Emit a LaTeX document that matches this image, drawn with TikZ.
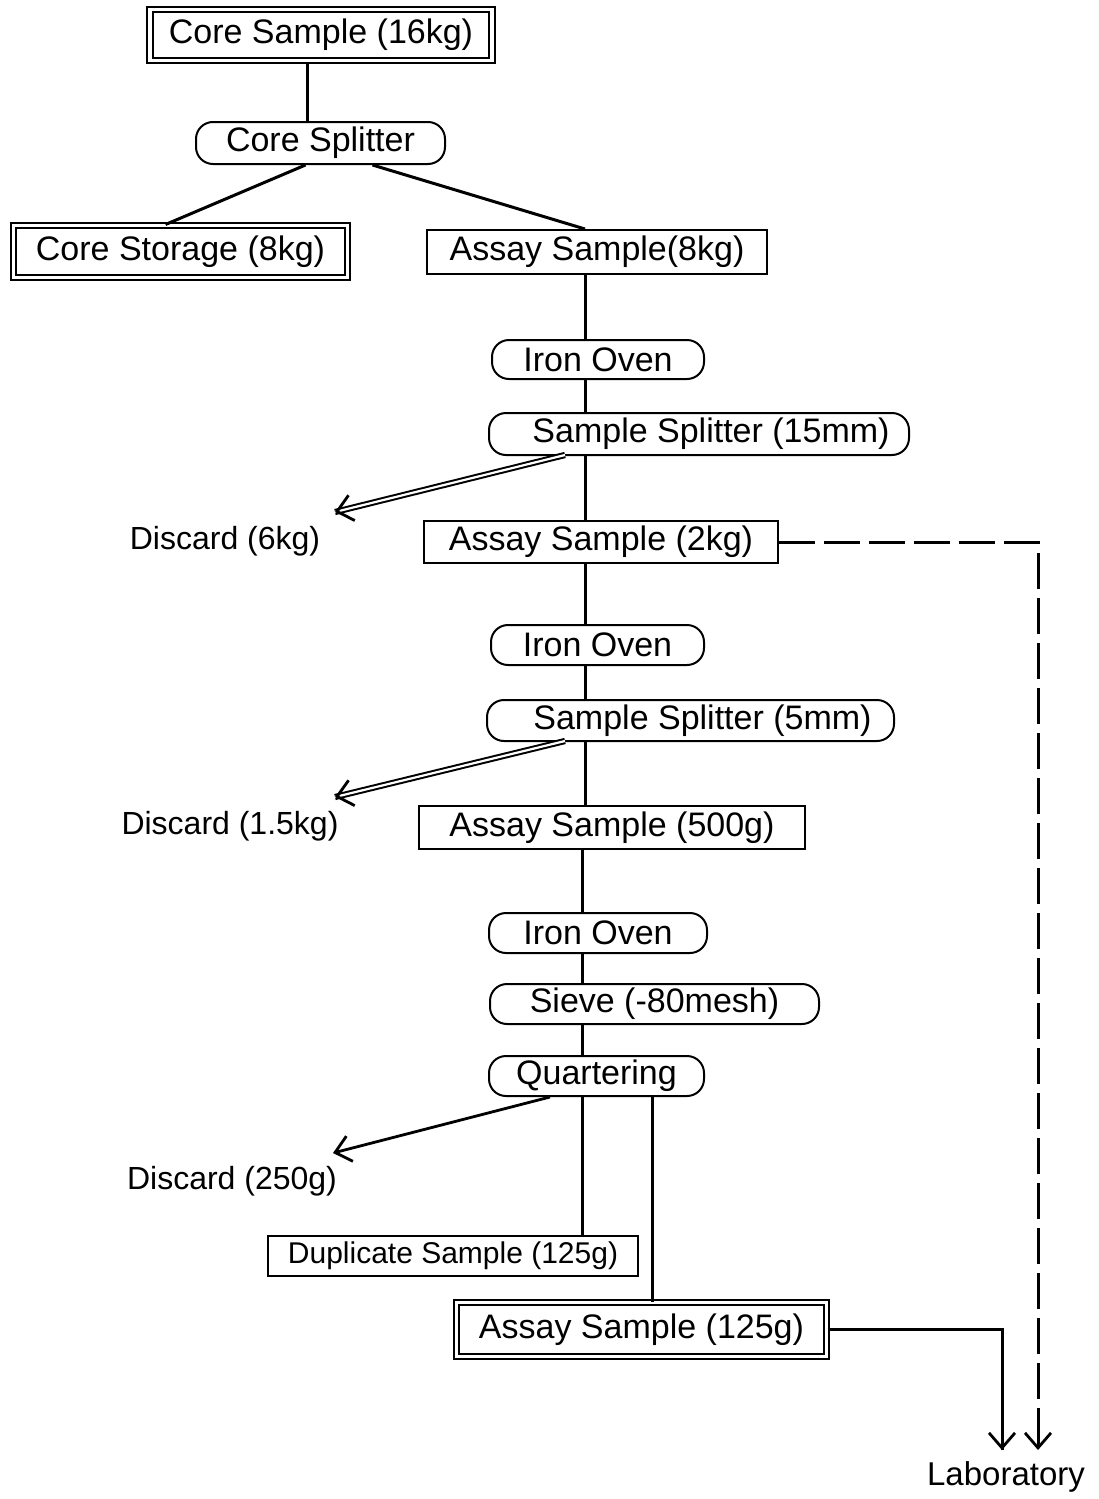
\documentclass[tikz,border=0pt]{standalone}
\usepackage{fontspec}
\setmainfont{Liberation Sans}
\usetikzlibrary{arrows.meta,calc}
\begin{document}
\begin{tikzpicture}[x=1pt,y=-1pt,
  base/.style={font=\fontsize{34}{40}\selectfont, inner sep=0pt, line width=2pt, align=center},
  dbox/.style={base, draw, double, double distance=3.5pt},
  sbox/.style={base, draw},
  pill/.style={base, draw, rounded corners=17pt},
  lbl/.style={font=\fontsize{32}{38}\selectfont, inner sep=0pt},
  conn/.style={line width=3pt},
  dbl/.style={line width=2pt, double, double distance=2.2pt},
  tip/.style={line width=2.8pt, -{Straight Barb[length=15pt,width=26pt]}}
]
\useasboundingbox (0,0) rectangle (1099,1499);

% boxes
\node[dbox, minimum width=342pt, minimum height=51pt] (cs) at (321,35) {Core Sample (16kg)};
\node[pill, minimum width=249pt, minimum height=42pt] (csp) at (320.5,143) {Core Splitter};
\node[dbox, minimum width=334pt, minimum height=52pt] (cst) at (180.5,251.5) {Core Storage (8kg)};
\node[sbox, minimum width=340pt, minimum height=44pt] (a8) at (597,252) {Assay Sample(8kg)};
\node[pill, minimum width=212pt, minimum height=39pt] (io1) at (598,359.5) {Iron Oven};
\node[pill, minimum width=420pt, minimum height=42pt] (ss15) at (699,434) {\hspace*{24pt}Sample Splitter (15mm)};
\node[lbl] (d6) at (225,541) {Discard (6kg)};
\node[sbox, minimum width=354pt, minimum height=42pt] (a2) at (601,542) {Assay Sample (2kg)};
\node[pill, minimum width=213pt, minimum height=40pt] (io2) at (597.5,645) {Iron Oven};
\node[pill, minimum width=407pt, minimum height=41pt] (ss5) at (690.5,720.5) {\hspace*{24pt}Sample Splitter (5mm)};
\node[lbl] (d15) at (230,826) {Discard (1.5kg)};
\node[sbox, minimum width=386pt, minimum height=43pt] (a500) at (612,827.5) {Assay Sample (500g)};
\node[pill, minimum width=218pt, minimum height=40pt] (io3) at (598,933) {Iron Oven};
\node[pill, minimum width=329pt, minimum height=40pt] (sv) at (654.5,1004) {Sieve (-80mesh)};
\node[pill, minimum width=215pt, minimum height=40pt] (qt) at (596.5,1076) {Quartering};
\node[lbl] (d250) at (232,1181) {Discard (250g)};
\node[sbox, font=\fontsize{30}{36}\selectfont, minimum width=370pt, minimum height=40pt] (dup) at (453,1256) {Duplicate Sample (125g)};
\node[dbox, minimum width=370pt, minimum height=54pt] (a125) at (641.5,1329.5) {Assay Sample (125g)};
\node[lbl, font=\fontsize{33}{40}\selectfont] (lab) at (1006,1477) {Laboratory};

% spine x positions
\coordinate (x1) at (307,0);
\coordinate (x2) at (585,0);
\coordinate (x3) at (582,0);
\coordinate (x4) at (652,0);

\draw[conn] (cs.south -| x1) -- (csp.north -| x1);
\draw[conn] ([xshift=-15pt]csp.south) -- ([xshift=-15pt]cst.north);
\draw[conn] ([xshift=52pt]csp.south) -- ([xshift=-12pt]a8.north);

\draw[conn] (a8.south -| x2) -- (io1.north -| x2);
\draw[conn] (io1.south -| x2) -- (ss15.north -| x2);
\draw[conn] (ss15.south -| x2) -- (a2.north -| x2);
\draw[conn] (a2.south -| x2) -- (io2.north -| x2);
\draw[conn] (io2.south -| x2) -- (ss5.north -| x2);
\draw[conn] (ss5.south -| x2) -- (a500.north -| x2);
\draw[conn] (a500.south -| x3) -- (io3.north -| x3);
\draw[conn] (io3.south -| x3) -- (sv.north -| x3);
\draw[conn] (sv.south -| x3) -- (qt.north -| x3);
\draw[conn] (qt.south -| x3) -- (dup.north -| x3);
\draw[conn] (qt.south -| x4) -- (a125.north -| x4);

% discard arrows
\coordinate (t1) at (335,512);
\coordinate (s1) at (565,455);
\draw[dbl] (s1) -- (t1);
\draw[tip] ($(t1)!2pt!(s1)$) -- (t1);
\coordinate (t2) at (335,797);
\coordinate (s2) at (565,741);
\draw[dbl] (s2) -- (t2);
\draw[tip] ($(t2)!2pt!(s2)$) -- (t2);
\coordinate (t3) at (333,1153);
\draw[tip] ([xshift=-46.5pt]qt.south) -- (t3);

% to laboratory
\coordinate (lr) at (1038,1450);
\coordinate (ll) at (1002,1450);
\draw[conn, dash pattern=on 36pt off 9pt] (a2.east) -| (lr);
\draw[tip] ($(lr)+(0,-10)$) -- (lr);
\draw[conn] (a125.east) -| (ll);
\draw[tip] ($(ll)+(0,-10)$) -- (ll);
\end{tikzpicture}
\end{document}
